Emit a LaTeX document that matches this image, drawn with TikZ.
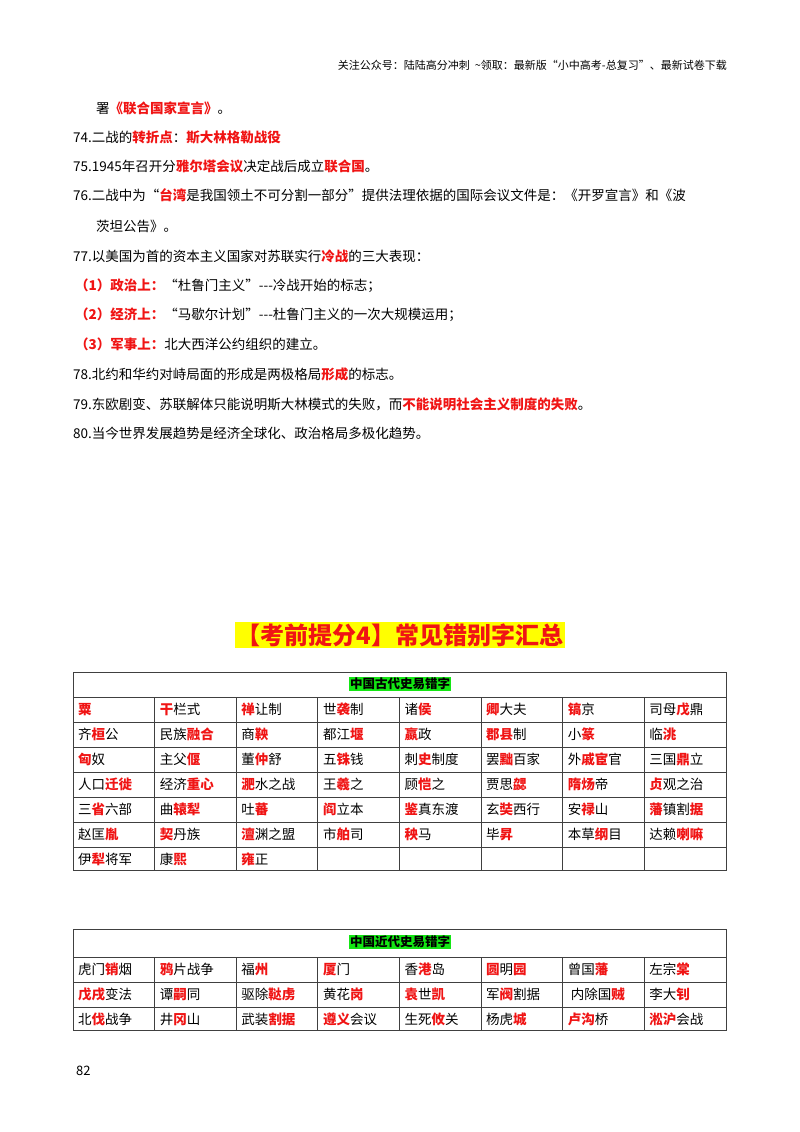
\documentclass[tikz,border=0pt]{standalone}
\usepackage{fontspec}
\setmainfont{Noto Sans CJK SC}
\usepackage{xcolor}
\definecolor{myred}{RGB}{240,20,20}
\definecolor{mygreen}{RGB}{20,230,20}
\definecolor{myyellow}{RGB}{255,255,0}
\newcommand{\R}[1]{\textcolor{myred}{\bfseries #1}}
\newcommand{\mycell}[3]{\node[cellt] at ({73+81.6*(#1)},{709.5+25*(#2)}) {#3};}
\newcommand{\mycellb}[3]{\node[cellt] at ({73+81.6*(#1)},{969.5+25*(#2)}) {#3};}
\begin{document}
\begin{tikzpicture}[x=1pt,y=-1pt,
  body/.style={anchor=west,inner sep=0pt,font=\fontsize{13.5}{14}\selectfont},
  cellt/.style={anchor=west,inner sep=0pt,xshift=5pt,font=\fontsize{13.5}{14}\selectfont},
  grid/.style={draw=black!75,line width=0.8pt}]
\useasboundingbox[fill=white] (0,0) rectangle (800,1132);
\node[anchor=east,inner sep=0pt,font=\fontsize{11}{12}\selectfont] (hdr) at (727,65) {关注公众号：陆陆高分冲刺\ \ \textasciitilde 领取：最新版“小中高考-总复习”、最新试卷下载};
\node[body] (l0) at (96,108) {署\R{《联合国家宣言》}。};
\node[body] (l74) at (73,137) {74.二战的\R{转折点}：\R{斯大林格勒战役}};
\node[body] (l75) at (73,166) {75.1945年召开分\R{雅尔塔会议}决定战后成立\R{联合国}。};
\node[body] (l76) at (73,195) {76.二战中为“\R{台湾}是我国领土不可分割一部分”提供法理依据的国际会议文件是：《开罗宣言》和《波};
\node[body] (l76b) at (96,226) {茨坦公告》。};
\node[body] (l77) at (73,256) {77.以美国为首的资本主义国家对苏联实行\R{冷战}的三大表现：};
\node[body] (l77a) at (75,286) {\R{（1）政治上：}“杜鲁门主义”{-}{-}{-}冷战开始的标志；};
\node[body] (l77b) at (75,315) {\R{（2）经济上：}“马歇尔计划”{-}{-}{-}杜鲁门主义的一次大规模运用；};
\node[body] (l77c) at (75,344) {\R{（3）军事上：}北大西洋公约组织的建立。};
\node[body] (l78) at (73,374) {78.北约和华约对峙局面的形成是两极格局\R{形成}的标志。};
\node[body] (l79) at (73,404) {79.东欧剧变、苏联解体只能说明斯大林模式的失败，而\R{不能说明社会主义制度的失败}。};
\node[body] (l80) at (73,433) {80.当今世界发展趋势是经济全球化、政治格局多极化趋势。};
% title
\node[fill=myyellow,inner sep=1.5pt,text=myred,font=\fontsize{24}{26}\bfseries\selectfont] (ttl) at (400,635) {【考前提分4】常见错别字汇总};
% table 1
\draw[grid] (73,672) rectangle (726,870);
\draw[grid] (73,697) -- (726,697);
\foreach \r in {722,747,772,797,822,847} \draw[grid] (73,\r) -- (726,\r);
\foreach \c in {1,...,7} \draw[grid] ({73+81.6*\c},697) -- ({73+81.6*\c},870);
\node[fill=mygreen,inner sep=1pt,font=\fontsize{12.5}{13}\bfseries\selectfont] (t1) at (400,684) {中国古代史易错字};
\mycell{0}{0}{\R{粟}}\mycell{1}{0}{\R{干}栏式}\mycell{2}{0}{\R{禅}让制}\mycell{3}{0}{世\R{袭}制}\mycell{4}{0}{诸\R{侯}}\mycell{5}{0}{\R{卿}大夫}\mycell{6}{0}{\R{镐}京}\mycell{7}{0}{司母\R{戊}鼎}
\mycell{0}{1}{齐\R{桓}公}\mycell{1}{1}{民族\R{融合}}\mycell{2}{1}{商\R{鞅}}\mycell{3}{1}{都江\R{堰}}\mycell{4}{1}{\R{嬴}政}\mycell{5}{1}{\R{郡县}制}\mycell{6}{1}{小\R{篆}}\mycell{7}{1}{临\R{洮}}
\mycell{0}{2}{\R{匈}奴}\mycell{1}{2}{主父\R{偃}}\mycell{2}{2}{董\R{仲}舒}\mycell{3}{2}{五\R{铢}钱}\mycell{4}{2}{刺\R{史}制度}\mycell{5}{2}{罢\R{黜}百家}\mycell{6}{2}{外\R{戚宦}官}\mycell{7}{2}{三国\R{鼎}立}
\mycell{0}{3}{人口\R{迁徙}}\mycell{1}{3}{经济\R{重心}}\mycell{2}{3}{\R{淝}水之战}\mycell{3}{3}{王\R{羲}之}\mycell{4}{3}{顾\R{恺}之}\mycell{5}{3}{贾思\R{勰}}\mycell{6}{3}{\R{隋炀}帝}\mycell{7}{3}{\R{贞}观之治}
\mycell{0}{4}{三\R{省}六部}\mycell{1}{4}{曲\R{辕犁}}\mycell{2}{4}{吐\R{蕃}}\mycell{3}{4}{\R{阎}立本}\mycell{4}{4}{\R{鉴}真东渡}\mycell{5}{4}{玄\R{奘}西行}\mycell{6}{4}{安\R{禄}山}\mycell{7}{4}{\R{藩}镇割\R{据}}
\mycell{0}{5}{赵匡\R{胤}}\mycell{1}{5}{\R{契}丹族}\mycell{2}{5}{\R{澶}渊之盟}\mycell{3}{5}{市\R{舶}司}\mycell{4}{5}{\R{秧}马}\mycell{5}{5}{毕\R{昇}}\mycell{6}{5}{本草\R{纲}目}\mycell{7}{5}{达赖\R{喇嘛}}
\mycell{0}{6}{伊\R{犁}将军}\mycell{1}{6}{康\R{熙}}\mycell{2}{6}{\R{雍}正}
% table 2
\draw[grid] (73,929) rectangle (726,1030);
\draw[grid] (73,957) -- (726,957);
\foreach \r in {982,1007} \draw[grid] (73,\r) -- (726,\r);
\foreach \c in {1,...,7} \draw[grid] ({73+81.6*\c},957) -- ({73+81.6*\c},1030);
\node[fill=mygreen,inner sep=1pt,font=\fontsize{12.5}{13}\bfseries\selectfont] (t2) at (400,942) {中国近代史易错字};
\mycellb{0}{0}{虎门\R{销}烟}\mycellb{1}{0}{\R{鸦}片战争}\mycellb{2}{0}{福\R{州}}\mycellb{3}{0}{\R{厦}门}\mycellb{4}{0}{香\R{港}岛}\mycellb{5}{0}{\R{圆}明\R{园}}\mycellb{6}{0}{曾国\R{藩}}\mycellb{7}{0}{左宗\R{棠}}
\mycellb{0}{1}{\R{戊戌}变法}\mycellb{1}{1}{谭\R{嗣}同}\mycellb{2}{1}{驱除\R{鞑虏}}\mycellb{3}{1}{黄花\R{岗}}\mycellb{4}{1}{\R{袁}世\R{凯}}\mycellb{5}{1}{军\R{阀}割据}\mycellb{6}{1}{\ 内除国\R{贼}}\mycellb{7}{1}{李大\R{钊}}
\mycellb{0}{2}{北\R{伐}战争}\mycellb{1}{2}{井\R{冈}山}\mycellb{2}{2}{武装\R{割据}}\mycellb{3}{2}{\R{遵义}会议}\mycellb{4}{2}{生死\R{攸}关}\mycellb{5}{2}{杨虎\R{城}}\mycellb{6}{2}{\R{卢沟}桥}\mycellb{7}{2}{\R{淞沪}会战}
\node[anchor=west,inner sep=0pt,font=\fontsize{13}{14}\selectfont] (pg) at (76,1071) {82};
\end{tikzpicture}
\end{document}
